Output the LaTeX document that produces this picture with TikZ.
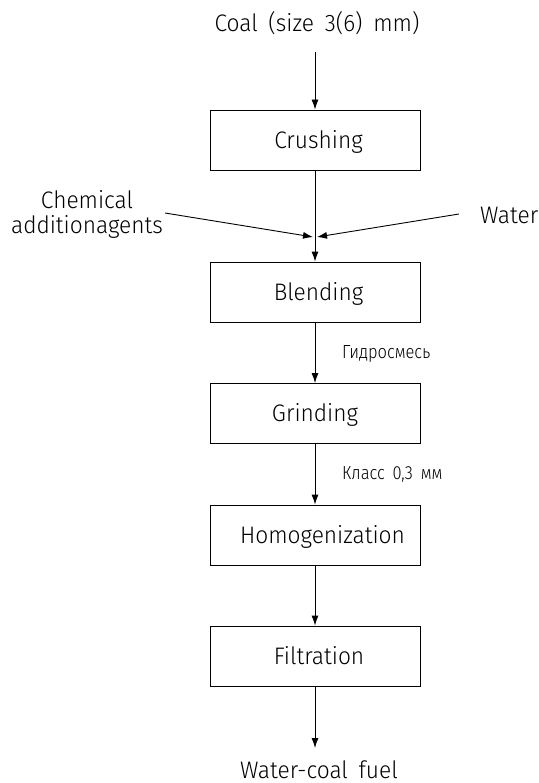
\documentclass[tikz,border=0pt]{standalone}
\usepackage{fontspec}
\setmainfont{Fira Sans Light}[FakeStretch=0.95,WordSpace=1.7]
\newfontfamily\smallf{Fira Sans Light}[FakeStretch=0.87,WordSpace=1.7]
\usetikzlibrary{arrows.meta}
\begin{document}
\begin{tikzpicture}[x=1bp,y=-1bp,
  proc/.style={draw,line width=0.9bp,minimum width=210bp,minimum height=60bp,inner sep=0pt,text height=16.5bp,text depth=0bp,font=\fontsize{24}{28}\selectfont},
  big/.style={inner sep=0pt,font=\fontsize{24}{28}\selectfont},
  small/.style={inner sep=0pt,font=\smallf\fontsize{19}{22}\selectfont},
  flow/.style={line width=0.9bp,-{Latex[length=10bp,width=7bp]}}]
\useasboundingbox (0,0) rectangle (539,783);
\node[big,anchor=base] (coal) at (317,32) {Coal (size 3(6) mm)};
\node[proc] (crush) at (315,140) {\hspace*{7bp}Crushing};
\node[proc] (blend) at (315,292) {\hspace*{7bp}Blending};
\node[proc] (grind) at (315,413.5) {Grinding};
\node[proc] (homo) at (315,535) {\hspace*{15bp}Homogenization};
\node[proc] (filt) at (315,656) {\hspace*{8bp}Filtration};
\node[big,anchor=base] (fuel) at (319,778) {Water-coal fuel};
\node[big,anchor=base] (chem1) at (87,208) {Chemical};
\node[big,anchor=base] (chem2) at (87,233) {additionagents};
\node[big,anchor=base west] (water) at (480,223) {Water};
\node[small,anchor=base west] (l1) at (342,358) {Гидросмесь};
\node[small,anchor=base west] (l2) at (342,479) {Класс 0,3 мм};
\coordinate (cs) at (315,52);
\coordinate (fe) at (315,748);
\coordinate (jl) at (313,237);
\coordinate (jr) at (317,237);
\coordinate (ls) at (165,213);
\coordinate (rs) at (459,214);
\draw[flow] (cs) -- (crush.north);
\draw[flow] (crush.south) -- (blend.north);
\draw[flow] (ls) -- (jl);
\draw[flow] (rs) -- (jr);
\draw[flow] (blend.south) -- (grind.north);
\draw[flow] (grind.south) -- (homo.north);
\draw[flow] (homo.south) -- (filt.north);
\draw[flow] (filt.south) -- (fe);
\end{tikzpicture}
\end{document}
